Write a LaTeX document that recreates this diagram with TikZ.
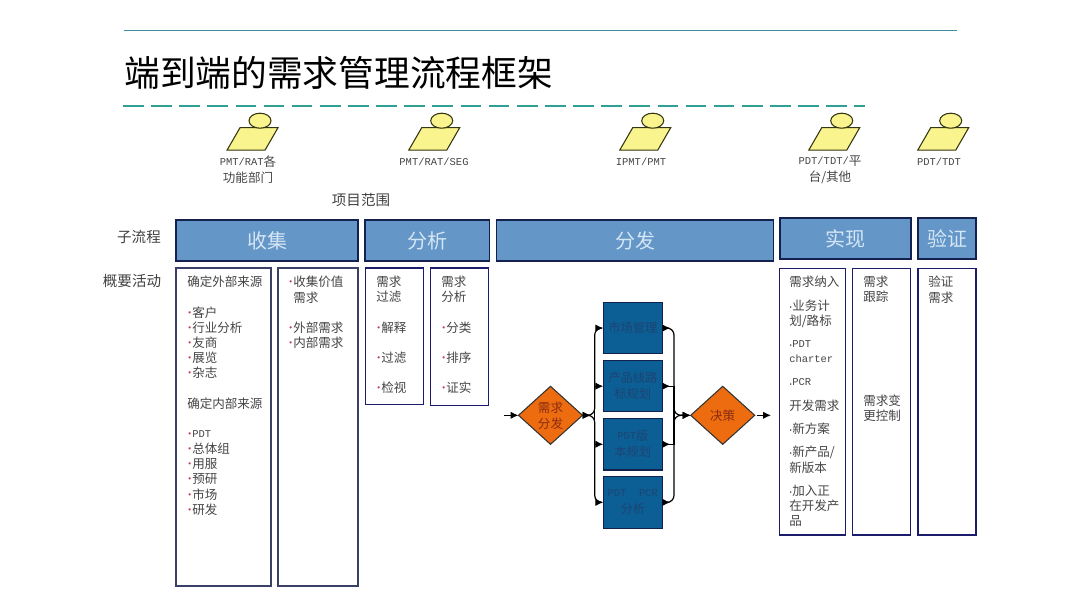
\documentclass[tikz,border=0pt]{standalone}
\usepackage{fontspec}
\usepackage{xcolor}
\usetikzlibrary{arrows.meta,positioning,shapes.geometric}
\setmainfont{Noto Sans CJK SC}
\newfontfamily\latinmono{Liberation Mono}
\definecolor{ruleteal}{HTML}{3E8E9E}
\definecolor{dashteal}{HTML}{2FA093}
\definecolor{headblue}{HTML}{6496C8}
\definecolor{headtext}{HTML}{D5E6F5}
\definecolor{edgenavy}{HTML}{14204E}
\definecolor{listnavy}{HTML}{1C1C6C}
\definecolor{listslate}{HTML}{3A4066}
\definecolor{planblue}{HTML}{0B5F94}
\definecolor{plantext}{HTML}{1E4474}
\definecolor{gateorange}{HTML}{EE6C10}
\definecolor{gatetext}{HTML}{8A2C10}
\definecolor{roleyellow}{HTML}{F9F48E}
\definecolor{roleedge}{HTML}{35350F}
\definecolor{bodygrey}{HTML}{454545}
\definecolor{dotred}{HTML}{C23A58}
\newlength{\pxu}
\setlength{\pxu}{0.75pt}
\newcommand{\lat}[1]{\raisebox{0.8pt}{\latinmono\fontsize{7.85pt}{11.37pt}\selectfont #1}}
\newcommand{\dotmark}{\makebox[5\pxu][l]{\raisebox{1.5pt}{\textcolor{dotred}{\latinmono\fontsize{6pt}{6pt}\selectfont •}}}}
\newcommand{\tinydot}{\makebox[3\pxu][c]{\latinmono\fontsize{7.85pt}{11.37pt}\selectfont ·}}
\newcommand{\hang}{\hspace*{5\pxu}}

\begin{document}
\begin{tikzpicture}[
    x=0.75pt, y=-0.75pt,
    >={Latex[length=6pt,width=5.6pt]},
    headbox/.style={rectangle, draw=edgenavy, fill=headblue, text=headtext, line width=0.8pt, inner sep=0pt, outer sep=0pt, minimum height=41\pxu, font=\fontsize{15pt}{18pt}\selectfont},
    listbox/.style={rectangle, draw=listnavy, fill=white, line width=0.9pt, inner sep=0pt, outer sep=0pt, anchor=north west},
    listtext/.style={anchor=north west, inner sep=0pt, align=left, text=bodygrey, font=\fontsize{9.4pt}{11.37pt}\selectfont},
    planbox/.style={rectangle, draw=edgenavy, fill=planblue, text=plantext, line width=0.8pt, inner sep=0pt, outer sep=0pt, align=center, minimum width=59\pxu, minimum height=51.5\pxu, font=\fontsize{9.2pt}{12pt}\selectfont},
    gate/.style={diamond, draw=black!80, fill=gateorange, text=gatetext, line width=0.8pt, inner sep=0pt, outer sep=0pt, align=center, minimum width=64\pxu, minimum height=58\pxu, font=\fontsize{9.4pt}{12pt}\selectfont},
    rolelabel/.style={inner sep=0pt, align=center, text=bodygrey, font=\fontsize{9.4pt}{12pt}\selectfont},
    sidelabel/.style={inner sep=0pt, text=black!75, font=\fontsize{10.9pt}{13pt}\selectfont},
    flow/.style={draw=black, line width=0.9pt},
    role/.pic={
        \draw[draw=roleedge, fill=roleyellow, line width=0.8pt] (-33,29.5) -- (5,29.5) -- (18,7) -- (-20,7) -- cycle;
        \draw[draw=roleedge, fill=roleyellow, line width=0.8pt] (0,0) ellipse (11 and 7.5);
    }
]
\useasboundingbox (0,0) rectangle (1080,608);

% title
\draw[ruleteal, line width=0.7pt] (124,30) -- (957,30);
\node[anchor=west, inner sep=0pt, font=\fontsize{26.8pt}{30pt}\selectfont] (title) at (124,73) {端到端的需求管理流程框架};
\draw[dashteal, line width=2.2pt, dash pattern=on 15.5pt off 5.6pt] (123,106) -- (865,106);

% roles
\foreach \rx in {260,441.7,652.7,841.7,950.7}
    \pic at (\rx,120.7) {role};
\node[rolelabel] (rolea) at (248,170) {\lat{PMT/RAT}各\\功能部门};
\node[rolelabel] (roleb) at (434,162) {\lat{PMT/RAT/SEG}};
\node[rolelabel] (rolec) at (641,162) {\lat{IPMT/PMT}};
\node[rolelabel] (roled) at (830,170) {\lat{PDT/TDT/}平\\台/其他};
\node[rolelabel] (rolee) at (939,162) {\lat{PDT/TDT}};

\node[sidelabel] (scope) at (361,200) {项目范围};
\node[sidelabel] (subflow) at (139,237) {子流程};
\node[sidelabel] (activity) at (132,281) {概要活动};

% sub-process row
\node[headbox, minimum width=182\pxu, anchor=north west] (collect) at (176,220) {收集};
\node[headbox, minimum width=124.5\pxu, right=7\pxu of collect] (analyse) {分析};
\node[headbox, minimum width=277\pxu, right=7\pxu of analyse] (dispatch) {分发};
\node[headbox, minimum width=131\pxu, anchor=north west] (realize) at (780,218) {实现};
\node[headbox, minimum width=58\pxu, right=7\pxu of realize] (verify) {验证};

% activity boxes
\node[listbox, draw=listslate, minimum width=95\pxu, minimum height=318\pxu] (sources) at (176,268) {};
\node[listbox, draw=listslate, minimum width=80\pxu, minimum height=318\pxu] (values) at (278,268) {};
\node[listbox, minimum width=58\pxu, minimum height=136.5\pxu] (filterlist) at (365.3,268) {};
\node[listbox, minimum width=58\pxu, minimum height=137.5\pxu] (analyselist) at (430.7,268) {};
\node[listbox, minimum width=65.5\pxu, minimum height=266.5\pxu] (intake) at (779.7,268.5) {};
\node[listbox, minimum width=58\pxu, minimum height=266.5\pxu] (tracking) at (852.7,268.5) {};
\node[listbox, minimum width=58\pxu, minimum height=266.5\pxu] (verifylist) at (918,268.5) {};

\node[listtext] (sourcestext) at (187,276) {确定外部来源\\[1\baselineskip]
    \dotmark 客户\\\dotmark 行业分析\\\dotmark 友商\\\dotmark 展览\\\dotmark 杂志\\[1\baselineskip]
    确定内部来源\\[1\baselineskip]
    \dotmark\lat{PDT}\\\dotmark 总体组\\\dotmark 用服\\\dotmark 预研\\\dotmark 市场\\\dotmark 研发};
\node[listtext] (valuestext) at (288,276) {\dotmark 收集价值\\\hang 需求\\[1\baselineskip]
    \dotmark 外部需求\\\dotmark 内部需求};
\node[listtext] (filtertext) at (376,276) {需求\\过滤\\[1\baselineskip]
    \dotmark 解释\\[1\baselineskip]\dotmark 过滤\\[1\baselineskip]\dotmark 检视};
\node[listtext] (analysetext) at (441,276) {需求\\分析\\[1\baselineskip]
    \dotmark 分类\\[1\baselineskip]\dotmark 排序\\[1\baselineskip]\dotmark 证实};
\node[listtext] (intaketext) at (789,276) {需求纳入\\[6.1pt]
    \tinydot 业务计\\划/路标\\[6.1pt]
    \tinydot\lat{PDT}\\\lat{charter}\\[6.1pt]
    \tinydot\lat{PCR}\\[6.1pt]
    开发需求\\[6.1pt]
    \tinydot 新方案\\[6.1pt]
    \tinydot 新产品/\\新版本\\[6.1pt]
    \tinydot 加入正\\在开发产\\品};
\node[listtext] (trackingtext) at (863,276) {需求\\跟踪\\[66pt]需求变\\更控制};
\node[listtext] (verifytext) at (928,276) {验证\\需求};

% dispatch flow
\node[planbox, anchor=north west] (market) at (603.3,302.3) {市场管理};
\node[planbox, below=6.6\pxu of market] (lineplan) {产品线路\\标规划};
\node[planbox, below=6.6\pxu of lineplan] (versionplan) {\lat{PDT}版\\本规划};
\node[planbox, below=6.6\pxu of versionplan] (pcrplan) {\lat{PDT\ \ PCR}\\分析};
\node[gate] (spread) at (550.5,415.3) {需求\\分发};
\node[gate] (decide) at (722.7,415.3) {决策};

\coordinate (flowin) at (504,415.3);
\coordinate (flowout) at (771,415.3);
\coordinate (split) at (594.7,415.3);
\coordinate (merge) at (674,415.3);

\draw[flow, ->] (flowin) -- (spread.west);
\draw[flow, ->, shorten <=2\pxu] (decide.east) -- (flowout);
\foreach \plan in {market,pcrplan}{
    \draw[flow, rounded corners=7\pxu, >->] (spread.east) -- (split) |- (\plan.west);
    \draw[flow, rounded corners=7\pxu, >->] (\plan.east) -| (merge) -- (decide.west);
}
\foreach \plan in {lineplan,versionplan}{
    \draw[flow, ->] (split) |- (\plan.west);
    \draw[flow, >-] (\plan.east) -| (merge);
}
\end{tikzpicture}
\end{document}
